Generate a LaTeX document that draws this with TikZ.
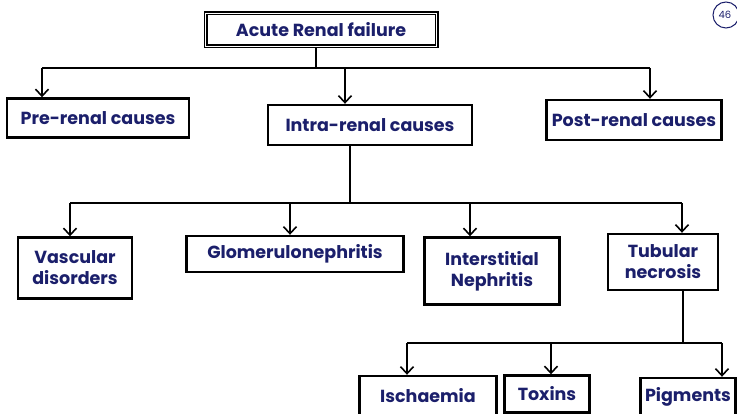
\documentclass[tikz,border=0pt]{standalone}
\usepackage{fontspec}
\setmainfont{Poppins}
\usetikzlibrary{arrows.meta}
\definecolor{ink}{HTML}{1B1F6B}
\begin{document}
\begin{tikzpicture}[x=1pt,y=-1pt,
 box/.style={draw=black, line width=2.4pt, fill=white, text=ink, font=\fontsize{17.5}{21}\selectfont\bfseries, align=center, inner sep=1pt},
 link/.style={line width=1.8pt, draw=black},
 arr/.style={link, -{Straight Barb[length=7pt,width=13pt,line width=1.6pt]}}]
\useasboundingbox (0,0) rectangle (737,414);
\fill[white] (0,0) rectangle (737,414);
% page mark
\draw[ink, line width=1pt] (726,15) circle (13);
\node[text=ink, font=\fontsize{10}{10}\selectfont] (pg) at (725,15) {46};
% boxes
\node[box, double=white, double distance=1.6pt, line width=1.2pt, minimum width=231pt, minimum height=33pt] (arf) at (321,30) {Acute Renal failure};
\node[box, minimum width=182pt, minimum height=39pt] (pre) at (98,118) {Pre-renal causes};
\node[box, minimum width=204pt, minimum height=40pt] (intra) at (370,125) {Intra-renal causes};
\node[box, minimum width=175pt, minimum height=40pt] (post) at (634,120) {Post-renal causes};
\node[box, minimum width=114pt, minimum height=61pt] (vasc) at (75,268) {Vascular\\disorders};
\node[box, minimum width=217pt, minimum height=36pt] (glom) at (295,254) {Glomerulonephritis};
\node[box, minimum width=135pt, minimum height=67pt] (inter) at (492,271) {Interstitial\\Nephritis};
\node[box, minimum width=110pt, minimum height=56pt] (tub) at (663,262) {Tubular\\necrosis};
\node[box, minimum width=137pt, minimum height=40pt] (isch) at (428,396) {Ischaemia};
\node[box, minimum width=85pt, minimum height=37pt] (tox) at (547,394) {Toxins};
\node[box, minimum width=95pt, minimum height=38pt] (pig) at (688,397) {Pigments};
% level 1 connectors
\coordinate (j1) at (316,68);
\coordinate (a1) at (42,68);
\coordinate (a2) at (345,68);
\coordinate (a3) at (650,68);
\draw[link] (arf.south -| j1) -- (j1);
\draw[link] (a1) -- (a3);
\draw[arr] (a1) -- (a1 |- pre.north);
\draw[arr] (a2) -- (a2 |- intra.north);
\draw[arr] (a3) -- (a3 |- post.north);
% level 2 connectors
\coordinate (j2) at (350,203);
\coordinate (b1) at (70,203);
\coordinate (b2) at (290,203);
\coordinate (b3) at (470,203);
\coordinate (b4) at (682,203);
\draw[link] (intra.south -| j2) -- (j2);
\draw[link] (b1) -- (b4);
\draw[arr] (b1) -- (b1 |- vasc.north);
\draw[arr] (b2) -- (b2 |- glom.north);
\draw[arr] (b3) -- (b3 |- inter.north);
\draw[arr] (b4) -- (b4 |- tub.north);
% level 3 connectors
\coordinate (j3) at (683,343);
\coordinate (c1) at (407,343);
\coordinate (c2) at (551,343);
\coordinate (c3) at (722,343);
\draw[link] (tub.south -| j3) -- (j3);
\draw[link] (c1) -- (c3);
\draw[arr] (c1) -- (c1 |- isch.north);
\draw[arr] (c2) -- (c2 |- tox.north);
\draw[arr] (c3) -- (c3 |- pig.north);
\end{tikzpicture}
\end{document}
